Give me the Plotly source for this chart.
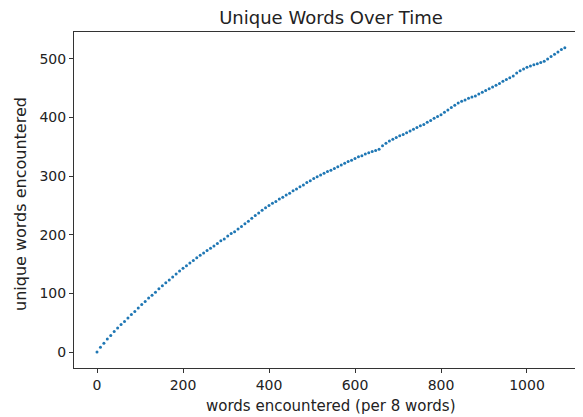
import plotly.graph_objects as go

# words encountered, sampled every 8 words
words_encountered = list(range(0, 1089, 8))

# cumulative unique words at each sample
unique_words = [
    0,
    8, 15, 22, 28, 35,
    41, 47, 52, 58, 64,
    69, 75, 81, 86, 92,
    97, 102, 108, 113, 118,
    123, 128, 133, 138, 143,
    147, 152, 156, 161, 165,
    169, 173, 177, 181, 185,
    190, 193, 198, 202, 205,
    210, 214, 219, 223, 228,
    233, 237, 242, 246, 250,
    254, 257, 261, 264, 268,
    271, 275, 278, 282, 285,
    289, 292, 296, 299, 302,
    305, 308, 310, 313, 316,
    319, 322, 325, 327, 330,
    333, 335, 338, 340, 342,
    344, 346, 352, 356, 360,
    363, 366, 369, 371, 374,
    377, 380, 383, 386, 388,
    392, 395, 399, 402, 405,
    409, 413, 417, 421, 425,
    428, 430, 433, 435, 437,
    440, 443, 446, 449, 452,
    455, 458, 462, 465, 468,
    471, 476, 480, 483, 486,
    488, 490, 492, 494, 496,
    500, 504, 508, 512, 516,
    519,
]

x_ticks = [0, 200, 400, 600, 800, 1000]
y_ticks = [0, 100, 200, 300, 400, 500]

FONT = "DejaVu Sans"
W, H = 575, 409          # page has an 8px body margin
L, R, T, B = 66, 2, 24, 49
PW, PH = W - L - R, H - T - B

fig = go.Figure(
    go.Scatter(
        x=words_encountered,
        y=unique_words,
        mode="markers",
        marker=dict(color="#1f77b4", size=3, line=dict(width=0)),
        showlegend=False,
    )
)

fig.update_layout(
    width=W,
    height=H,
    margin=dict(l=L, r=R, t=T, b=B, autoexpand=False),
    paper_bgcolor="white",
    plot_bgcolor="white",
    font=dict(family=FONT, size=13, color="#222222"),
    title=dict(
        text="Unique Words Over Time",
        x=(L + 580) / 2 / W,
        xanchor="center",
        y=1 - 10 / H,
        yanchor="middle",
        font=dict(family=FONT, size=18, color="#222222"),
    ),
    annotations=[
        dict(
            text="words encountered (per 8 words)",
            xref="paper", yref="paper",
            x=(330 - 8 - L) / PW, y=(T + PH - 398) / PH,
            xanchor="center", yanchor="middle",
            showarrow=False,
            font=dict(family=FONT, size=15, color="#222222"),
        ),
        dict(
            text="unique words encountered",
            xref="paper", yref="paper",
            x=(12 - L) / PW, y=(T + PH - 196) / PH,
            xanchor="center", yanchor="middle",
            textangle=-90,
            showarrow=False,
            font=dict(family=FONT, size=16, color="#222222"),
        ),
    ],
)

fig.update_xaxes(
    range=[-53.5, 1125.6],
    tickvals=x_ticks,
    ticks="outside",
    ticklen=4,
    tickcolor="#333333",
    tickfont=dict(size=14),
    showgrid=False,
    zeroline=False,
    showline=True,
    linecolor="#333333",
    linewidth=1,
    mirror=True,
    automargin=False,
)
fig.update_yaxes(
    range=[-27.3, 546],
    tickvals=y_ticks,
    ticks="outside",
    ticklen=4,
    tickcolor="#333333",
    tickfont=dict(size=14),
    showgrid=False,
    zeroline=False,
    showline=True,
    linecolor="#333333",
    linewidth=1,
    mirror=True,
    automargin=False,
)

fig.write_html("out.html")
